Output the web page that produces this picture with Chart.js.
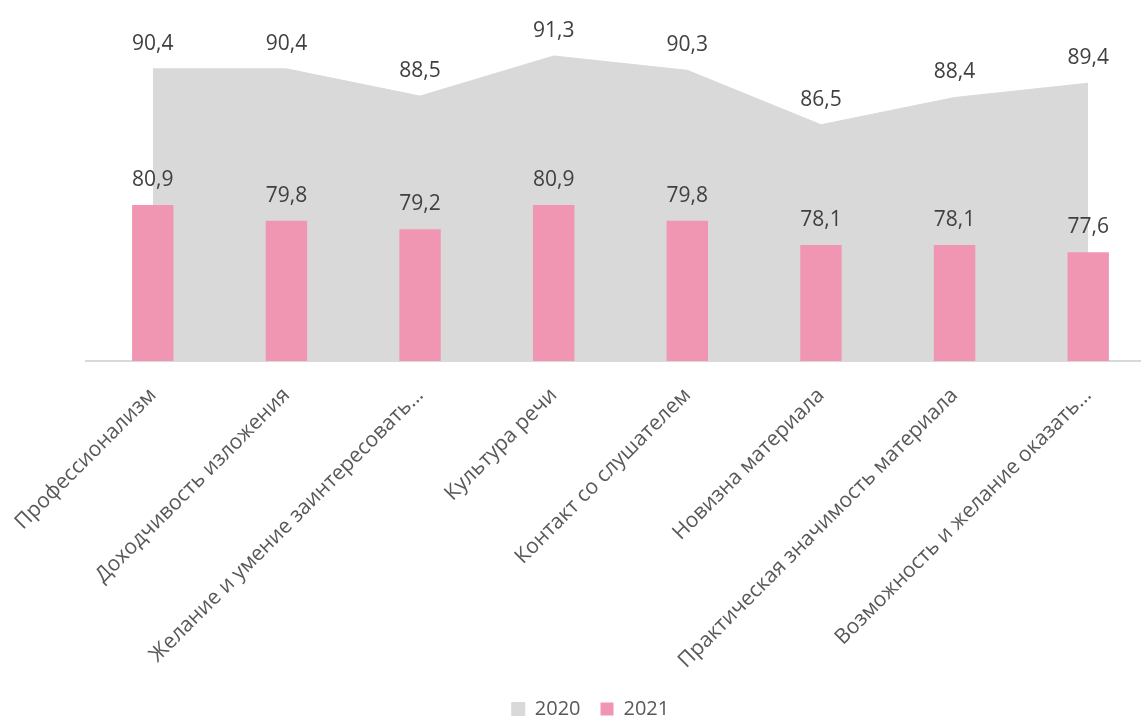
<!DOCTYPE html>
<html>
<head>
<meta charset="utf-8">
<script src="https://cdn.jsdelivr.net/npm/chart.js@4/dist/chart.umd.min.js"></script>
<style>
  html, body { margin: 0; padding: 0; background: #fff; overflow: hidden; }
  #wrap { width: 1181px; height: 729px; position: relative; }
</style>
</head>
<body>
<div id="wrap"><canvas id="chart"></canvas></div>
<script>
const categories = [
  "Профессионализм",
  "Доходчивость изложения",
  "Желание и умение заинтересовать…",
  "Культура речи",
  "Контакт со слушателем",
  "Новизна материала",
  "Практическая значимость материала",
  "Возможность и желание оказать…",
];
const values2020 = [90.4, 90.4, 88.5, 91.3, 90.3, 86.5, 88.4, 89.4];
const values2021 = [80.9, 79.8, 79.2, 80.9, 79.8, 78.1, 78.1, 77.6];
const seriesNames = ["2020", "2021"];

const FONT = "'Open Sans', 'DejaVu Sans', sans-serif";

// value labels above points and bars
const valueLabels = {
  id: "valueLabels",
  afterDatasetsDraw(chart) {
    const ctx = chart.ctx;
    ctx.save();
    ctx.font = "21px " + FONT;
    ctx.fillStyle = "#404040";
    ctx.textAlign = "center";
    ctx.textBaseline = "middle";
    chart.data.datasets.forEach((ds, i) => {
      const meta = chart.getDatasetMeta(i);
      meta.data.forEach((el, j) => {
        const txt = ds.data[j].toFixed(1).replace(".", ",");
        ctx.fillText(txt, el.x, el.y - 25);
      });
    });
    ctx.restore();
  },
};

new Chart(document.getElementById("chart"), {
  data: {
    labels: categories,
    datasets: [
      {
        type: "line",
        label: seriesNames[0],
        data: values2020,
        fill: "start",
        backgroundColor: "#d9d9d9",
        borderColor: "#d9d9d9",
        borderWidth: 1,
        pointRadius: 0,
        tension: 0,
        order: 2,
      },
      {
        type: "bar",
        label: seriesNames[1],
        data: values2021,
        backgroundColor: "#f096b3",
        categoryPercentage: 1,
        barPercentage: 0.31,
        order: 1,
      },
    ],
  },
  options: {
    responsive: true,
    maintainAspectRatio: false,
    animation: false,
    layout: { padding: { left: 0, right: 0, top: 3, bottom: 0 } },
    plugins: {
      legend: {
        position: "bottom",
        labels: {
          boxWidth: 13,
          boxHeight: 13,
          padding: 20,
          color: "#595959",
          font: { family: FONT, size: 20 },
          sort: (a, b) => a.datasetIndex - b.datasetIndex,
        },
      },
      tooltip: { enabled: false },
    },
    scales: {
      x: {
        offset: true,
        grid: { display: false, drawTicks: false },
        border: { display: true, color: "#d9d9d9", width: 2 },
        ticks: {
          color: "#595959",
          font: { family: FONT, size: 21 },
          minRotation: 45,
          maxRotation: 45,
          autoSkip: false,
          padding: 22,
        },
        afterFit: (s) => {
          s.height = 318;
          s.paddingLeft = 86;
          s.paddingRight = 26;
        },
      },
      y: {
        display: false,
        min: 70,
        max: 95,
      },
    },
  },
  plugins: [valueLabels],
});
</script>
</body>
</html>
